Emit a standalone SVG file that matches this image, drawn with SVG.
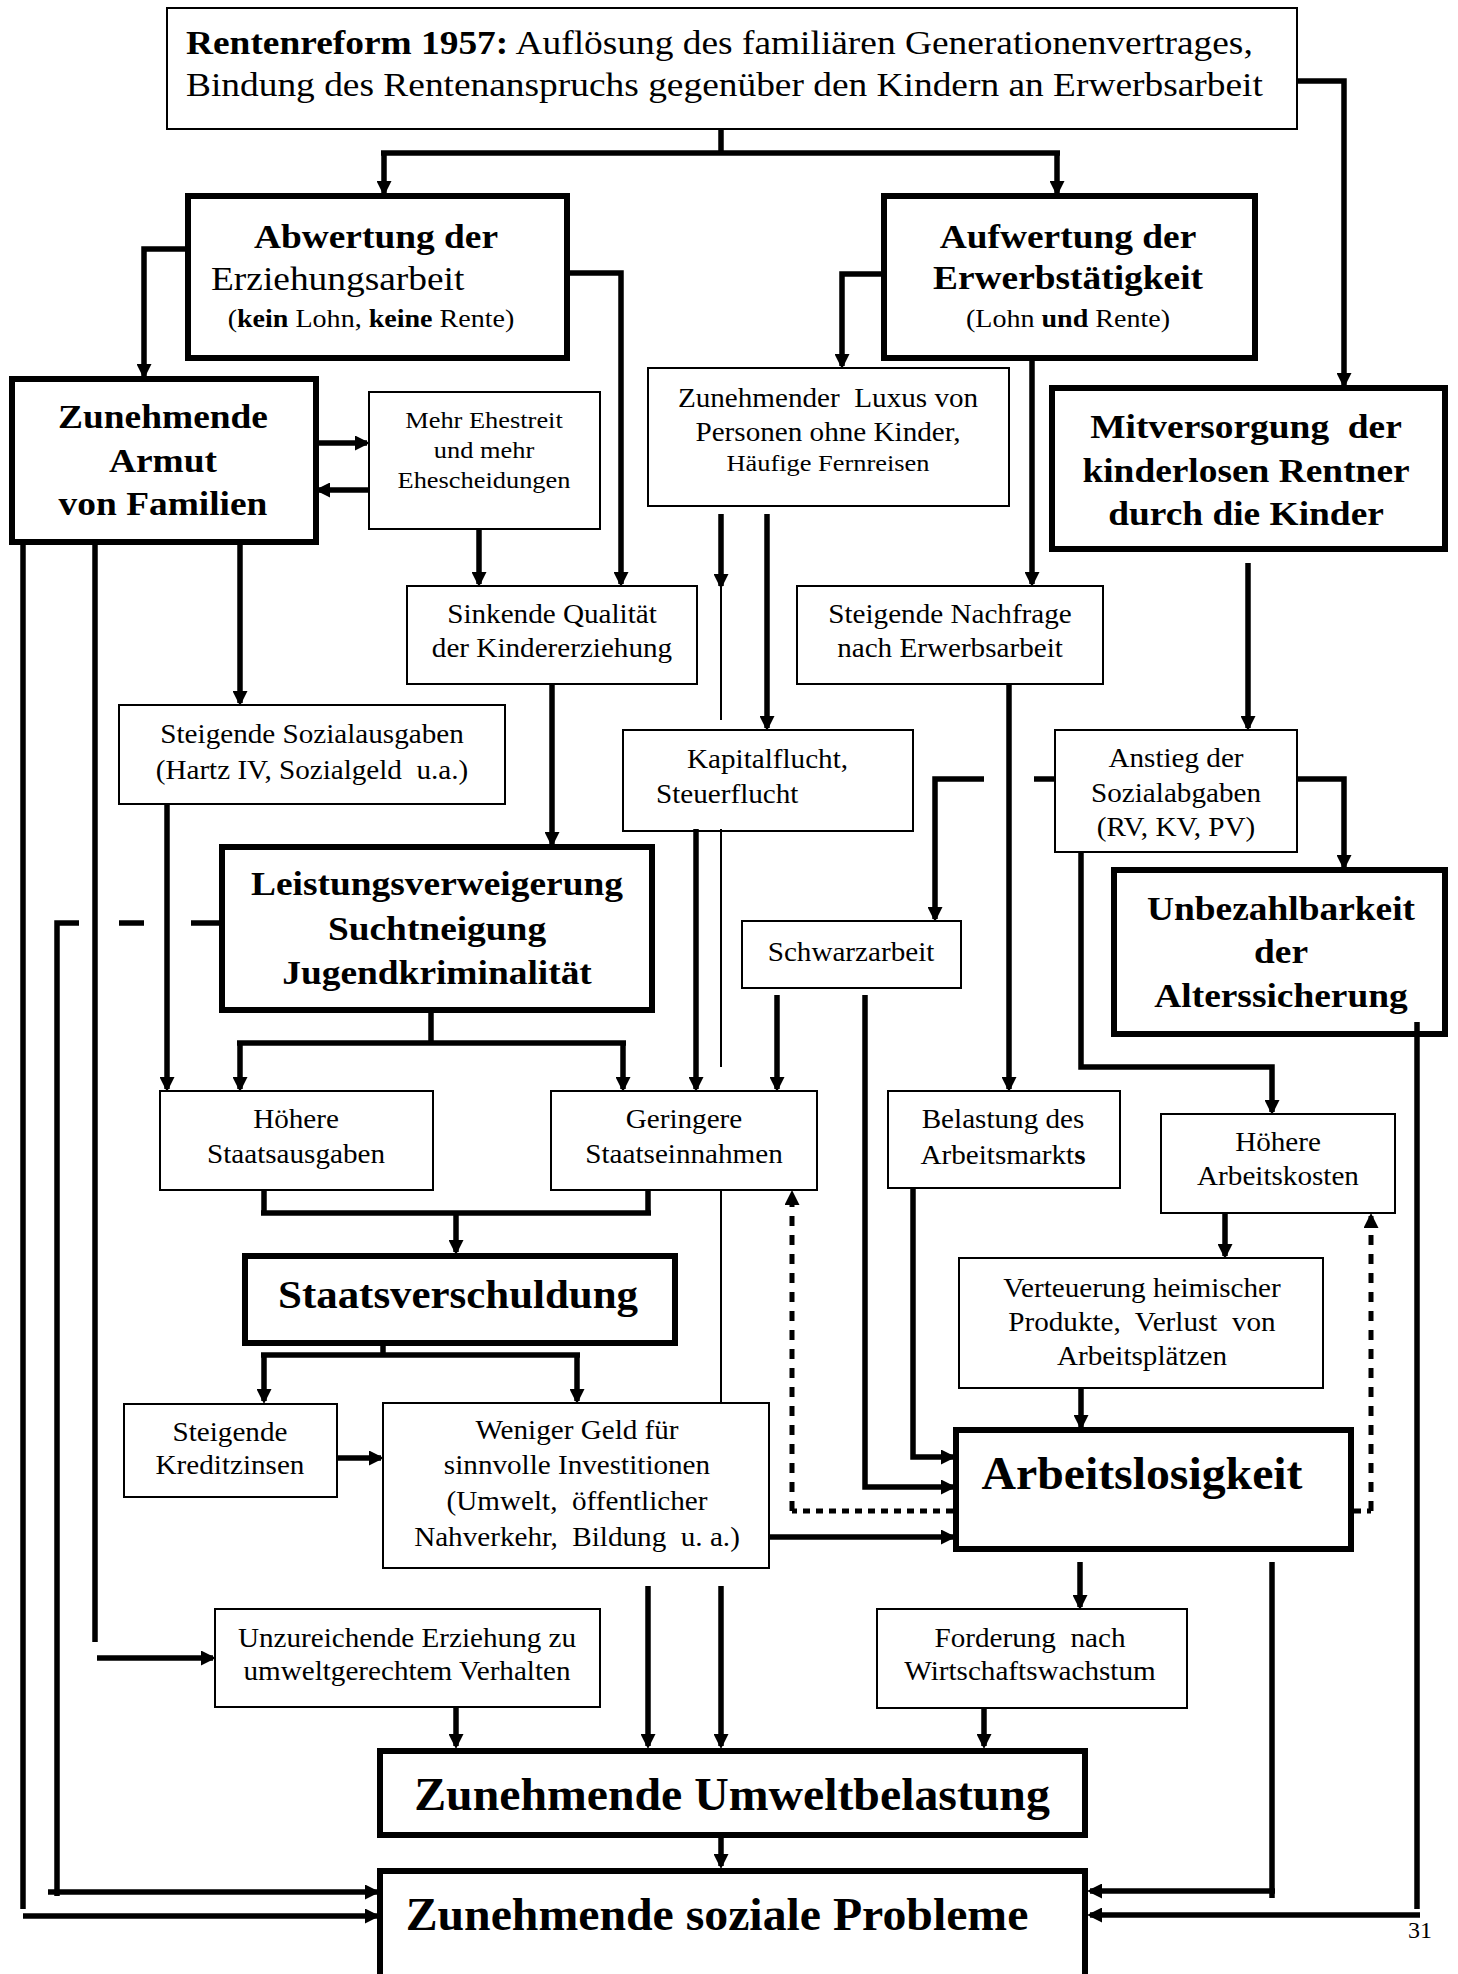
<svg xmlns="http://www.w3.org/2000/svg" width="1458" height="1974" viewBox="0 0 1458 1974">
<style>
text { font-family: "Liberation Serif", "Times New Roman", serif; text-anchor: middle; fill: #000; }
.l { text-anchor: start; }
.s { font-size: 26.5px; }
.m { font-size: 24px; }
.r { font-size: 34px; }
.h { font-size: 34px; font-weight: bold; }
.x { font-size: 39px; font-weight: bold; }
.y { font-size: 45.5px; font-weight: bold; }
.p { font-size: 25.5px; }
.b { font-weight: bold; }
.n { fill: #fff; stroke: #000; stroke-width: 2; }
.k { fill: #fff; stroke: #000; stroke-width: 6; }
.c { fill: none; stroke: #000; stroke-width: 5.5; }
.t { fill: none; stroke: #000; stroke-width: 2; }
.dv { fill: none; stroke: #000; stroke-width: 5; stroke-dasharray: 10 9; }
.dh { fill: none; stroke: #000; stroke-width: 5; stroke-dasharray: 7 6; }
</style>
<defs>
<marker id="a" markerUnits="userSpaceOnUse" markerWidth="15" markerHeight="15" viewBox="0 0 15 15" refX="12" refY="7.5" orient="auto">
<path d="M0,0 L15,7.5 L0,15 z" fill="#000"/>
</marker>
</defs>
<rect width="1458" height="1974" fill="#fff"/>

<g id="n-top">
<rect class="n" x="167" y="8" width="1130" height="121"/>
<text class="r l" transform="translate(186 54) scale(1.1 1)"><tspan class="b">Rentenreform 1957:</tspan> Auflösung des familiären Generationenvertrages,</text>
<text class="r l" transform="translate(186 96) scale(1.1 1)">Bindung des Rentenanspruchs gegenüber den Kindern an Erwerbsarbeit</text>
</g>
<g id="n-abwertung">
<rect class="k" x="188" y="196" width="379" height="162"/>
<text class="h" transform="translate(376 248) scale(1.1 1)">Abwertung der</text>
<text class="r l" transform="translate(211 290) scale(1.1 1)">Erziehungsarbeit</text>
<text class="p" transform="translate(371 327) scale(1.1 1)">(<tspan class="b">kein</tspan> Lohn, <tspan class="b">keine</tspan> Rente)</text>
</g>
<g id="n-aufwertung">
<rect class="k" x="884" y="196" width="371" height="162"/>
<text class="h" transform="translate(1068 248) scale(1.1 1)">Aufwertung der</text>
<text class="h" transform="translate(1068 289) scale(1.1 1)">Erwerbstätigkeit</text>
<text class="p" transform="translate(1068 327) scale(1.1 1)">(Lohn <tspan class="b">und</tspan> Rente)</text>
</g>
<g id="n-armut">
<rect class="k" x="12" y="379" width="304" height="163"/>
<text class="h" transform="translate(163 428) scale(1.1 1)">Zunehmende</text>
<text class="h" transform="translate(163 472) scale(1.1 1)">Armut</text>
<text class="h" transform="translate(163 515) scale(1.1 1)">von Familien</text>
</g>
<g id="n-ehestreit">
<rect class="n" x="369" y="392" width="231" height="137"/>
<text class="m" transform="translate(484 428) scale(1.1 1)">Mehr Ehestreit</text>
<text class="m" transform="translate(484 458) scale(1.1 1)">und mehr</text>
<text class="m" transform="translate(484 488) scale(1.1 1)">Ehescheidungen</text>
</g>
<g id="n-luxus">
<rect class="n" x="648" y="368" width="361" height="138"/>
<text class="s" transform="translate(828 407) scale(1.1 1)">Zunehmender&#160; Luxus von</text>
<text class="s" transform="translate(828 441) scale(1.1 1)">Personen ohne Kinder,</text>
<text class="m" transform="translate(828 471) scale(1.1 1)">Häufige Fernreisen</text>
</g>
<g id="n-mitversorgung">
<rect class="k" x="1052" y="388" width="393" height="161"/>
<text class="h" transform="translate(1246 438) scale(1.1 1)">Mitversorgung&#160; der</text>
<text class="h" transform="translate(1246 482) scale(1.1 1)">kinderlosen Rentner</text>
<text class="h" transform="translate(1246 525) scale(1.1 1)">durch die Kinder</text>
</g>
<g id="n-sinkende">
<rect class="n" x="407" y="586" width="290" height="98"/>
<text class="s" transform="translate(552 623) scale(1.1 1)">Sinkende Qualität</text>
<text class="s" transform="translate(552 657) scale(1.1 1)">der Kindererziehung</text>
</g>
<g id="n-nachfrage">
<rect class="n" x="797" y="586" width="306" height="98"/>
<text class="s" transform="translate(950 623) scale(1.1 1)">Steigende Nachfrage</text>
<text class="s" transform="translate(950 657) scale(1.1 1)">nach Erwerbsarbeit</text>
</g>
<g id="n-sozialausgaben">
<rect class="n" x="119" y="705" width="386" height="99"/>
<text class="s" transform="translate(312 743) scale(1.1 1)">Steigende Sozialausgaben</text>
<text class="s" transform="translate(312 779) scale(1.1 1)">(Hartz IV, Sozialgeld&#160; u.a.)</text>
</g>
<g id="n-kapitalflucht">
<rect class="n" x="623" y="730" width="290" height="101"/>
<text class="s l" transform="translate(687 768) scale(1.1 1)">Kapitalflucht,</text>
<text class="s l" transform="translate(656 803) scale(1.1 1)">Steuerflucht</text>
</g>
<g id="n-anstieg">
<rect class="n" x="1055" y="730" width="242" height="122"/>
<text class="s" transform="translate(1176 767) scale(1.1 1)">Anstieg der</text>
<text class="s" transform="translate(1176 802) scale(1.1 1)">Sozialabgaben</text>
<text class="s" transform="translate(1176 836) scale(1.1 1)">(RV, KV, PV)</text>
</g>
<g id="n-leistung">
<rect class="k" x="222" y="847" width="430" height="163"/>
<text class="h" transform="translate(437 895) scale(1.1 1)">Leistungsverweigerung</text>
<text class="h" transform="translate(437 940) scale(1.1 1)">Suchtneigung</text>
<text class="h" transform="translate(437 984) scale(1.1 1)">Jugendkriminalität</text>
</g>
<g id="n-schwarzarbeit">
<rect class="n" x="742" y="921" width="219" height="67"/>
<text class="s" transform="translate(851 961) scale(1.1 1)">Schwarzarbeit</text>
</g>
<g id="n-unbezahlbarkeit">
<rect class="k" x="1114" y="870" width="331" height="164"/>
<text class="h" transform="translate(1281 920) scale(1.1 1)">Unbezahlbarkeit</text>
<text class="h" transform="translate(1281 963) scale(1.1 1)">der</text>
<text class="h" transform="translate(1281 1007) scale(1.1 1)">Alterssicherung</text>
</g>
<g id="n-staatsausgaben">
<rect class="n" x="160" y="1091" width="273" height="99"/>
<text class="s" transform="translate(296 1128) scale(1.1 1)">Höhere</text>
<text class="s" transform="translate(296 1163) scale(1.1 1)">Staatsausgaben</text>
</g>
<g id="n-staatseinnahmen">
<rect class="n" x="551" y="1091" width="266" height="99"/>
<text class="s" transform="translate(684 1128) scale(1.1 1)">Geringere</text>
<text class="s" transform="translate(684 1163) scale(1.1 1)">Staatseinnahmen</text>
</g>
<g id="n-belastung">
<rect class="n" x="888" y="1091" width="232" height="97"/>
<text class="s" transform="translate(1003 1128) scale(1.1 1)">Belastung des</text>
<text class="s" transform="translate(1003 1164) scale(1.1 1)">Arbeitsmarkt<tspan class="b">s</tspan></text>
</g>
<g id="n-arbeitskosten">
<rect class="n" x="1161" y="1114" width="234" height="99"/>
<text class="s" transform="translate(1278 1151) scale(1.1 1)">Höhere</text>
<text class="s" transform="translate(1278 1185) scale(1.1 1)">Arbeitskosten</text>
</g>
<g id="n-staatsverschuldung">
<rect class="k" x="245" y="1256" width="430" height="87"/>
<text class="x" transform="translate(458 1308) scale(1.1 1)">Staatsverschuldung</text>
</g>
<g id="n-verteuerung">
<rect class="n" x="959" y="1258" width="364" height="130"/>
<text class="s" transform="translate(1142 1297) scale(1.1 1)">Verteuerung heimischer</text>
<text class="s" transform="translate(1142 1331) scale(1.1 1)">Produkte,&#160; Verlust&#160; von</text>
<text class="s" transform="translate(1142 1365) scale(1.1 1)">Arbeitsplätzen</text>
</g>
<g id="n-kreditzinsen">
<rect class="n" x="124" y="1404" width="213" height="93"/>
<text class="s" transform="translate(230 1441) scale(1.1 1)">Steigende</text>
<text class="s" transform="translate(230 1474) scale(1.1 1)">Kreditzinsen</text>
</g>
<g id="n-weniger">
<rect class="n" x="383" y="1403" width="386" height="165"/>
<text class="s" transform="translate(577 1439) scale(1.1 1)">Weniger Geld für</text>
<text class="s" transform="translate(577 1474) scale(1.1 1)">sinnvolle Investitionen</text>
<text class="s" transform="translate(577 1510) scale(1.1 1)">(Umwelt,&#160; öffentlicher</text>
<text class="s" transform="translate(577 1546) scale(1.1 1)">Nahverkehr,&#160; Bildung&#160; u. a.)</text>
</g>
<g id="n-arbeitslosigkeit">
<rect class="k" x="956" y="1430" width="395" height="119"/>
<text class="y" transform="translate(1142 1489) scale(1.05 1)">Arbeitslosigkeit</text>
</g>
<g id="n-unzureichend">
<rect class="n" x="215" y="1609" width="385" height="98"/>
<text class="s" transform="translate(407 1647) scale(1.1 1)">Unzureichende Erziehung zu</text>
<text class="s" transform="translate(407 1680) scale(1.1 1)">umweltgerechtem Verhalten</text>
</g>
<g id="n-forderung">
<rect class="n" x="877" y="1609" width="310" height="99"/>
<text class="s" transform="translate(1030 1647) scale(1.1 1)">Forderung&#160; nach</text>
<text class="s" transform="translate(1030 1680) scale(1.1 1)">Wirtschaftswachstum</text>
</g>
<g id="n-umwelt">
<rect class="k" x="380" y="1751" width="705" height="84"/>
<text class="y" transform="translate(732 1810) scale(1.05 1)">Zunehmende Umweltbelastung</text>
</g>
<g id="n-soziale">
<rect class="k" x="380" y="1871" width="705" height="200"/>
<text class="y" transform="translate(717 1930) scale(1.05 1)">Zunehmende soziale Probleme</text>
</g>
<g id="pagenum">
<text transform="translate(1420 1938)" style="font-size:24px">31</text>
</g>

<g id="connectors">
<path class="c" d="M721,129 V153"/>
<path class="c" d="M381,153 H1060"/>
<path class="c" d="M384,153 V193" marker-end="url(#a)"/>
<path class="c" d="M1057,153 V193" marker-end="url(#a)"/>
<path class="c" d="M1297,81 H1344 V385" marker-end="url(#a)"/>
<path class="c" d="M188,249 H144 V376" marker-end="url(#a)"/>
<path class="c" d="M567,273 H621 V584" marker-end="url(#a)"/>
<path class="c" d="M884,274 H842 V366" marker-end="url(#a)"/>
<path class="c" d="M1032,361 V584" marker-end="url(#a)"/>
<path class="c" d="M316,443 H367" marker-end="url(#a)"/>
<path class="c" d="M369,490 H318" marker-end="url(#a)"/>
<path class="c" d="M479,529 V584" marker-end="url(#a)"/>
<path class="c" d="M721,514 V586" marker-end="url(#a)"/>
<path class="t" d="M721,586 V720"/>
<path class="c" d="M767,514 V728" marker-end="url(#a)"/>
<path class="c" d="M240,545 V703" marker-end="url(#a)"/>
<path class="c" d="M23,545 V1909"/>
<path class="c" d="M23,1916 H377" marker-end="url(#a)"/>
<path class="c" d="M95,545 V1642"/>
<path class="c" d="M97,1658 H213" marker-end="url(#a)"/>
<path class="c" d="M552,684 V844" marker-end="url(#a)"/>
<path class="c" d="M1009,684 V1089" marker-end="url(#a)"/>
<path class="c" d="M1248,563 V728" marker-end="url(#a)"/>
<path class="c" d="M167,804 V1089" marker-end="url(#a)"/>
<path class="c" d="M696,829 V1089" marker-end="url(#a)"/>
<path class="t" d="M721,829 V1067"/>
<path class="c" d="M1055,779 H1034"/>
<path class="c" d="M984,779 H935 V919" marker-end="url(#a)"/>
<path class="c" d="M1297,779 H1344 V867" marker-end="url(#a)"/>
<path class="c" d="M1081,852 V1067 H1272 V1112" marker-end="url(#a)"/>
<path class="c" d="M1417,1022 V1909"/>
<path class="c" d="M1420,1915 H1090" marker-end="url(#a)"/>
<path class="c" d="M219,923 H191"/>
<path class="c" d="M144,923 H119"/>
<path class="c" d="M79,923 H57 V1896"/>
<path class="c" d="M48,1892 H377" marker-end="url(#a)"/>
<path class="c" d="M431,1013 V1043"/>
<path class="c" d="M237,1043 H626"/>
<path class="c" d="M240,1043 V1089" marker-end="url(#a)"/>
<path class="c" d="M623,1043 V1089" marker-end="url(#a)"/>
<path class="c" d="M777,995 V1089" marker-end="url(#a)"/>
<path class="c" d="M865,995 V1487 H953" marker-end="url(#a)"/>
<path class="c" d="M264,1190 V1213"/>
<path class="c" d="M648,1190 V1213"/>
<path class="c" d="M261,1213 H651"/>
<path class="c" d="M456,1213 V1252" marker-end="url(#a)"/>
<path class="t" d="M721,1190 V1403"/>
<path class="dh" d="M953,1511 H792"/>
<path class="dv" d="M792,1511 V1193" marker-end="url(#a)"/>
<path class="c" d="M913,1188 V1457 H953" marker-end="url(#a)"/>
<path class="c" d="M1225,1213 V1256" marker-end="url(#a)"/>
<path class="c" d="M1081,1388 V1427" marker-end="url(#a)"/>
<path class="dh" d="M1354,1511 H1371"/>
<path class="dv" d="M1371,1511 V1216" marker-end="url(#a)"/>
<path class="c" d="M383,1346 V1355"/>
<path class="c" d="M261,1355 H580"/>
<path class="c" d="M264,1355 V1401" marker-end="url(#a)"/>
<path class="c" d="M577,1355 V1401" marker-end="url(#a)"/>
<path class="c" d="M337,1458 H381" marker-end="url(#a)"/>
<path class="c" d="M769,1537 H953" marker-end="url(#a)"/>
<path class="c" d="M648,1586 V1746" marker-end="url(#a)"/>
<path class="c" d="M721,1586 V1746" marker-end="url(#a)"/>
<path class="c" d="M1080,1562 V1607" marker-end="url(#a)"/>
<path class="c" d="M1272,1562 V1898"/>
<path class="c" d="M1275,1891 H1090" marker-end="url(#a)"/>
<path class="c" d="M456,1708 V1746" marker-end="url(#a)"/>
<path class="c" d="M984,1708 V1746" marker-end="url(#a)"/>
<path class="c" d="M721,1838 V1866" marker-end="url(#a)"/>
</g>
</svg>
